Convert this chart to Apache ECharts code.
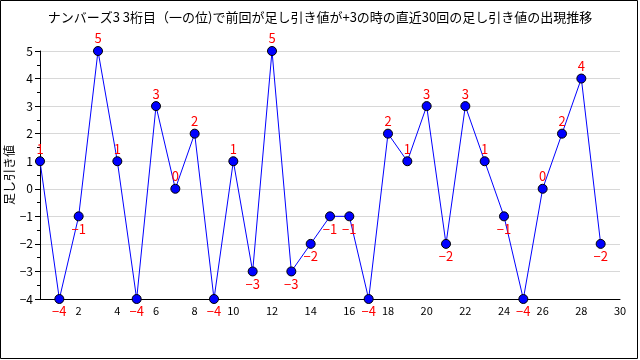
<!DOCTYPE html>
<html><head><meta charset="utf-8">
<script src="https://cdn.jsdelivr.net/npm/echarts@6/dist/echarts.min.js"></script>
<style>html,body{margin:0;padding:0;background:#fff}#c{width:640px;height:360px}</style>
</head><body><div id="c"></div>
<script>
const titleText = 'ナンバーズ3 3桁目（一の位)で前回が足し引き値が+3の時の直近30回の足し引き値の出現推移';
const yAxisName = '足し引き値';
const xValues = [0,1,2,3,4,5,6,7,8,9,10,11,12,13,14,15,16,17,18,19,20,21,22,23,24,25,26,27,28,29];
const yValues = [1,-4,-1,5,1,-4,3,0,2,-4,1,-3,5,-3,-2,-1,-1,-4,2,1,3,-2,3,1,-1,-4,0,2,4,-2];

const fam = '"Noto Sans CJK JP","DejaVu Sans",sans-serif';
const minus = v => String(v).replace('-', '−');
const data = xValues.map((x, i) => ({
  value: [x, yValues[i]],
  label: { position: yValues[i] >= 0 ? 'top' : 'bottom' }
}));
const chart = echarts.init(document.getElementById('c'), null, {renderer: 'canvas'});
chart.setOption({
  animation: false,
  backgroundColor: '#fff',
  title: { text: titleText, left: 'center', top: 6,
    textStyle: { fontFamily: fam, fontSize: 13, fontWeight: 'normal', color: '#000' } },
  grid: { left: 40, right: 20, top: 51, bottom: 61, containLabel: false, outerBoundsMode: 'none' },
  xAxis: { type: 'value', min: 0, max: 30, interval: 2,
    axisLine: { onZero: false, lineStyle: { color: '#000', width: 1 } },
    axisTick: { show: false },
    splitLine: { show: false },
    axisLabel: { fontFamily: fam, fontSize: 11, color: '#000', margin: 6,
      formatter: v => v === 0 ? '' : String(v) } },
  yAxis: { type: 'value', min: -4, max: 5, interval: 1,
    axisLine: { show: true, lineStyle: { color: '#000', width: 1 } },
    axisTick: { show: true, length: 5, lineStyle: { color: '#000' } },
    minorTick: { show: true, splitNumber: 2, length: 3, lineStyle: { color: '#000' } },
    splitLine: { show: true, lineStyle: { color: '#d8d8d8', width: 1 } },
    axisLabel: { fontFamily: fam, fontSize: 12, color: '#000', margin: 7, formatter: minus } },
  series: [{
    type: 'line', data: data,
    lineStyle: { color: '#0000ff', width: 1 },
    symbol: 'circle', symbolSize: 9,
    itemStyle: { color: '#0000ff', borderColor: '#000', borderWidth: 1 },
    label: { show: true, color: '#ff0000', fontFamily: fam, fontSize: 13, distance: 1,
      formatter: p => minus(p.value[1]) },
    z: 3
  }],
  graphic: [
    { type: 'rect', shape: { x: 0.5, y: 0.5, width: 637, height: 358 },
      style: { fill: 'none', stroke: '#000', lineWidth: 1 }, silent: true },
    { type: 'text', x: 9, y: 175, rotation: Math.PI / 2, silent: true,
      style: { text: yAxisName, fontFamily: fam, fontSize: 12, fill: '#000',
        align: 'center', verticalAlign: 'middle' } }
  ]
});
</script></body></html>
